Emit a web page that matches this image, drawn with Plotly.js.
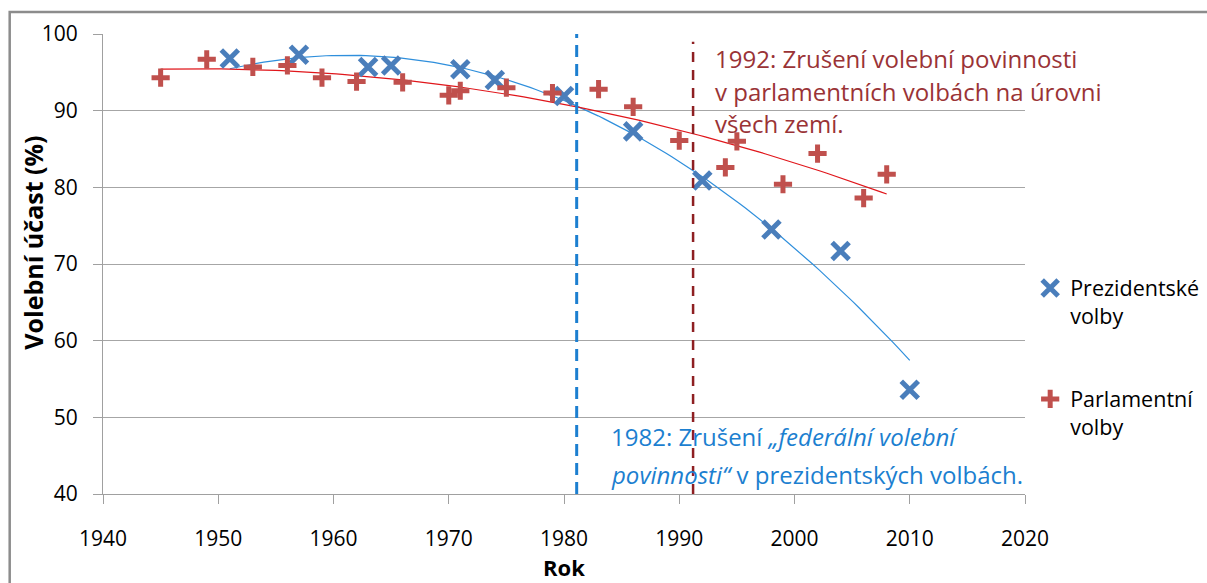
<!DOCTYPE html>
<html>
<head>
<meta charset="utf-8">
<script src="https://cdn.plot.ly/plotly-3.0.1.min.js"></script>
<style>
  html, body { margin: 0; padding: 0; background: #fff; }
  #chart { width: 1207px; height: 583px; }
</style>
</head>
<body>
<div id="chart"></div>
<script>
// ---- Data ----
const presYears   = [1951, 1957, 1963, 1965, 1971, 1974, 1980, 1986, 1992, 1998, 2004, 2010];
const presTurnout = [96.8, 97.3, 95.7, 95.9, 95.4, 94.0, 91.9, 87.3, 80.9, 74.5, 71.7, 53.6];

const parlYears   = [1945, 1949, 1953, 1956, 1959, 1962, 1966, 1970, 1971, 1975, 1979, 1983, 1986, 1990, 1994, 1995, 1999, 2002, 2006, 2008];
const parlTurnout = [94.3, 96.7, 95.7, 95.9, 94.3, 93.8, 93.7, 92.0, 92.6, 93.0, 92.3, 92.8, 90.5, 86.1, 82.6, 86.0, 80.4, 84.4, 78.6, 81.7];

const seriesNames = ["Prezidentské<br>volby", "Parlamentní<br>volby"];
const eventYears  = [1981.1, 1991.2];   // where the reference draws the dashed event lines
const yTicks = [40, 50, 60, 70, 80, 90, 100];
const xTicks = [1940, 1950, 1960, 1970, 1980, 1990, 2000, 2010, 2020];

// ---- Quadratic least-squares trend (as the spreadsheet trendline) ----
function quadFit(xs, ys) {
  const n = xs.length;
  const mx = xs.reduce((a, b) => a + b, 0) / n;
  let s = [0, 0, 0, 0, 0], t = [0, 0, 0];
  for (let i = 0; i < n; i++) {
    const u = xs[i] - mx;
    let p = 1;
    for (let k = 0; k <= 4; k++) { s[k] += p; p *= u; }
    t[0] += ys[i]; t[1] += ys[i] * u; t[2] += ys[i] * u * u;
  }
  const A = [[s[0], s[1], s[2]], [s[1], s[2], s[3]], [s[2], s[3], s[4]]];
  const det = m => m[0][0]*(m[1][1]*m[2][2]-m[1][2]*m[2][1]) - m[0][1]*(m[1][0]*m[2][2]-m[1][2]*m[2][0]) + m[0][2]*(m[1][0]*m[2][1]-m[1][1]*m[2][0]);
  const D = det(A);
  const coef = [0, 1, 2].map(c => {
    const M = A.map((row, r) => row.map((v, j) => j === c ? t[r] : v));
    return det(M) / D;
  });
  return x => coef[0] + coef[1] * (x - mx) + coef[2] * (x - mx) * (x - mx);
}
function trendLine(xs, ys) {
  const f = quadFit(xs, ys);
  const x0 = Math.min(...xs), x1 = Math.max(...xs);
  const tx = [], ty = [];
  for (let i = 0; i <= 120; i++) {
    const x = x0 + (x1 - x0) * i / 120;
    tx.push(x); ty.push(f(x));
  }
  return { tx, ty };
}
const presTrend = trendLine(presYears, presTurnout);
const parlTrend = trendLine(parlYears, parlTurnout);

const BLUE = "#4a7ebb", RED = "#c0504d";
const FONT = "'Open Sans', Lato, sans-serif";

const traces = [
  { x: presTrend.tx, y: presTrend.ty, mode: "lines", line: { color: "#2f8fdc", width: 1.2 },
    showlegend: false, hoverinfo: "skip" },
  { x: parlTrend.tx, y: parlTrend.ty, mode: "lines", line: { color: "#e0161b", width: 1.2 },
    showlegend: false, hoverinfo: "skip" },
  { x: presYears, y: presTurnout, mode: "markers", name: seriesNames[0], legendgroup: "p",
    marker: { symbol: "x-thin", size: 17, color: BLUE, line: { color: BLUE, width: 5 } } },
  { x: parlYears, y: parlTurnout, mode: "markers", name: seriesNames[1], legendgroup: "q",
    marker: { symbol: "cross-thin", size: 13, color: RED, line: { color: RED, width: 5 } } }
];

const layout = {
  width: 1207, height: 583,
  margin: { l: 103, r: 182, t: 34, b: 89, autoexpand: false },
  paper_bgcolor: "#ffffff", plot_bgcolor: "#ffffff",
  font: { family: FONT, size: 22, color: "#000" },
  showlegend: true,
  legend: {
    xref: "container", yref: "container",
    x: 0.8535, xanchor: "left", y: 0.541, yanchor: "top",
    valign: "top", tracegroupgap: 52, bgcolor: "rgba(0,0,0,0)",
    font: { family: FONT, size: 21.5, color: "#000" }, itemwidth: 30
  },
  xaxis: {
    range: [1940, 2020], tickvals: xTicks, ticktext: xTicks.map(String),
    showgrid: false, zeroline: false, showline: true, linecolor: "#a0a0a0", linewidth: 1,
    ticks: "outside", ticklen: 9, tickcolor: "#a0a0a0", ticklabelstandoff: 17,
    tickfont: { family: FONT, size: 21, color: "#000" }, fixedrange: true, automargin: false
  },
  yaxis: {
    range: [40, 100], tickvals: yTicks, ticktext: yTicks.map(String),
    showgrid: true, gridcolor: "#a6a6a6", gridwidth: 1, zeroline: false,
    showline: true, linecolor: "#a0a0a0", linewidth: 1,
    ticks: "outside", ticklen: 9, tickcolor: "#a0a0a0", ticklabelstandoff: 11,
    tickfont: { family: FONT, size: 21, color: "#000" }, fixedrange: true, automargin: false
  },
  shapes: [
    { type: "rect", xref: "paper", yref: "paper", x0: -0.1012, x1: 1.21, y0: -0.25, y1: 1.0478,
      line: { color: "#8c8c8c", width: 2.5 }, fillcolor: "rgba(0,0,0,0)", layer: "below" },
    { type: "line", xref: "x", yref: "y", x0: eventYears[0], x1: eventYears[0], y0: 40, y1: 100,
      line: { color: "#1c7fd0", width: 3, dash: "12px,7px" } },
    { type: "line", xref: "x", yref: "y", x0: eventYears[1], x1: eventYears[1], y0: 40, y1: 99,
      line: { color: "#8e1f22", width: 2.5, dash: "10px,8px" } }
  ],
  annotations: [
    { xref: "x", yref: "y", x: 1992.9, y: 96.83, xanchor: "left", yanchor: "middle", showarrow: false,
      text: "1992: Zrušení volební povinnosti", font: { family: FONT, size: 24, color: "#9a3336" } },
    { xref: "x", yref: "y", x: 1992.9, y: 92.47, xanchor: "left", yanchor: "middle", showarrow: false,
      text: "v parlamentních volbách na úrovni", font: { family: FONT, size: 24, color: "#9a3336" } },
    { xref: "x", yref: "y", x: 1992.9, y: 88.39, xanchor: "left", yanchor: "middle", showarrow: false,
      text: "všech zemí.", font: { family: FONT, size: 24, color: "#9a3336" } },
    { xref: "x", yref: "y", x: 1983.9, y: 47.48, xanchor: "left", yanchor: "middle", showarrow: false,
      text: "1982: Zrušení <i>„federální volební</i>", font: { family: FONT, size: 24, color: "#1c7fd0" } },
    { xref: "x", yref: "y", x: 1983.9, y: 42.48, xanchor: "left", yanchor: "middle", showarrow: false,
      text: "<i>povinnosti“</i> v prezidentských volbách.", font: { family: FONT, size: 24, color: "#1c7fd0" } },
    { xref: "paper", yref: "paper", x: -0.0763, y: 0.5457, xanchor: "center", yanchor: "middle",
      showarrow: false, textangle: -90, text: "<b>Volební účast (%)</b>",
      font: { family: FONT, size: 25, color: "#000" } },
    { xref: "paper", yref: "paper", x: 0.5, y: -0.158, xanchor: "center", yanchor: "middle",
      showarrow: false, text: "<b>Rok</b>", font: { family: FONT, size: 22, color: "#000" } }
  ]
};

Plotly.newPlot("chart", traces, layout, { displayModeBar: false, staticPlot: true });
</script>
</body>
</html>
